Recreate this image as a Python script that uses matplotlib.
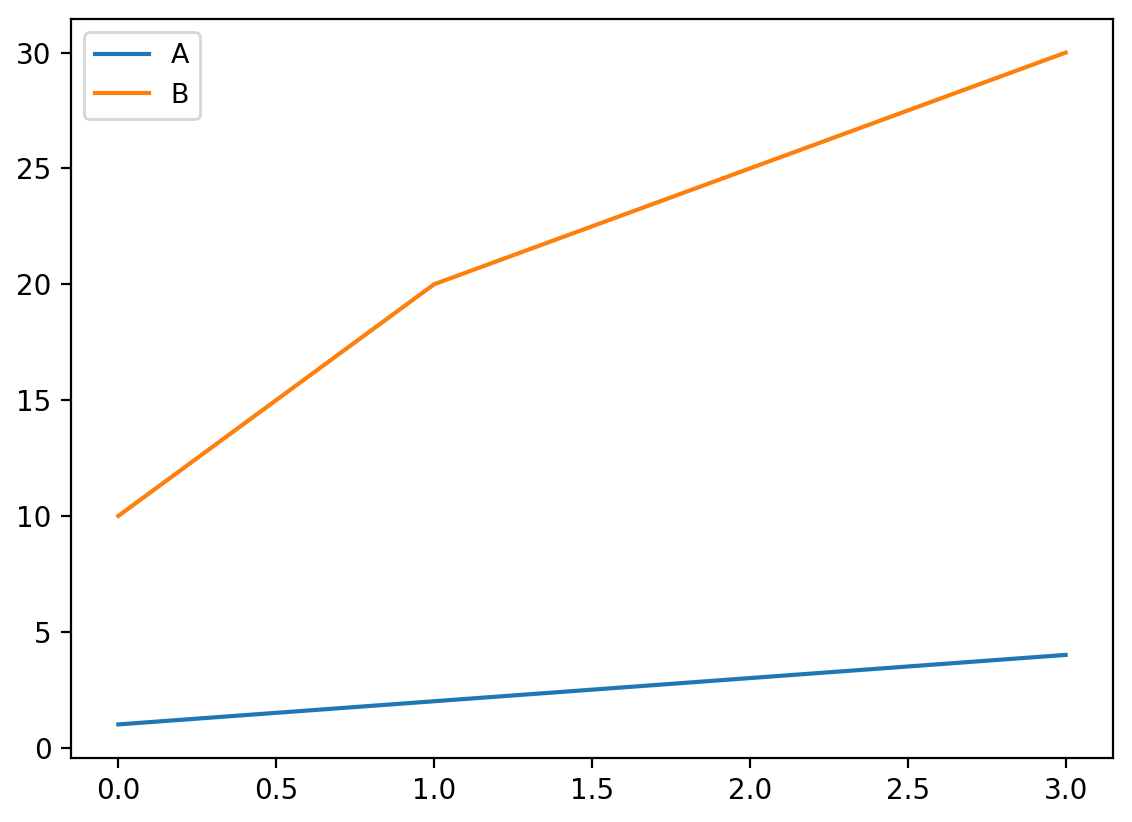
import matplotlib
matplotlib.use("Agg")
import matplotlib.pyplot as plt

x = [0, 1, 2, 3]
series_a = [1, 2, 3, 4]
series_b = [10, 20, 25, 30]

fig = plt.figure(figsize=(5.66, 4.11), dpi=200)
ax = fig.add_axes([71/1132, 1-758/822, (1113-71)/1132, (758-19)/822])
ax.plot(x, series_a, label="A")
ax.plot(x, series_b, label="B")
ax.legend(loc="upper left", fontsize=9.7)
fig.savefig("out.png", dpi=200)
